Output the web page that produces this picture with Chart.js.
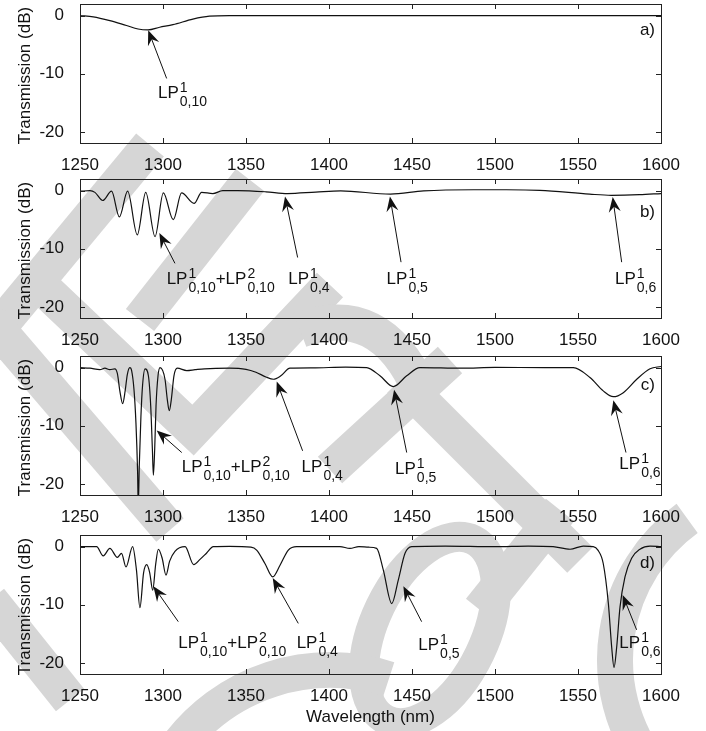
<!DOCTYPE html>
<html>
<head>
<meta charset="utf-8">
<script src="https://cdn.jsdelivr.net/npm/chart.js@4.4.0/dist/chart.umd.min.js"></script>
<style>
html, body { margin: 0; padding: 0; background: #fff; }
#page { position: relative; width: 706px; height: 731px; overflow: hidden; }
canvas { position: absolute; left: 0; }
</style>
</head>
<body>
<div id="page">
  <canvas id="wm" width="706" height="731" style="top:0px"></canvas>
  <canvas id="pa" width="706" height="173" style="top:0px"></canvas>
  <canvas id="pb" width="706" height="173" style="top:175px"></canvas>
  <canvas id="pc" width="706" height="173" style="top:352px"></canvas>
  <canvas id="pd" width="706" height="200" style="top:531px"></canvas>
</div>
<script>
// tick values
var xTicks = [1250, 1300, 1350, 1400, 1450, 1500, 1550, 1600];
var yTicks = [-20, -10, 0];

// a) transmission spectrum (wavelength nm / dB)
var lamA = [1250, 1258, 1268, 1278, 1285, 1291, 1298, 1306, 1318, 1328, 1340, 1400, 1500, 1600];
var dbA  = [0, -0.2, -0.85, -1.7, -2.3, -2.45, -2.0, -1.55, -0.6, -0.1, 0, 0, 0, 0];

// b)
var lamB = [1250, 1256, 1259, 1263.7, 1269, 1273.7, 1278.7, 1284.5, 1289.6, 1295.2, 1300.2, 1306.2, 1311.2, 1318.7, 1323.3,
            1330, 1336, 1345, 1362, 1375, 1392, 1407, 1437, 1457, 1487, 1507, 1527, 1557, 1570, 1587, 1600];
var dbB  = [-0.1, 0, -0.3, -1.7, -0.1, -4.5, -0.1, -7.6, -0.3, -7.9, -0.4, -5, -0.4, -2.2, -0.3,
            -0.5, 0, 0, -0.2, -0.5, -0.25, -0.05, -0.6, -0.05, 0.15, 0.15, 0.05, -0.6, -0.8, -0.7, -0.5];

// c)
var lamC = [1250, 1256, 1262, 1265, 1268, 1271, 1272.5, 1274, 1275.7, 1277.2, 1278.5, 1280, 1281.1, 1282.5, 1283.7, 1284.7,
            1285.1, 1285.7, 1286.7, 1287.7, 1289.2, 1291.2, 1292.6, 1293.6, 1294.2, 1295, 1295.8, 1297, 1298.2, 1301.2,
            1302.6, 1303.8, 1305, 1306.6, 1308.6, 1314.3, 1319.3, 1325, 1340, 1350, 1356, 1362, 1366.5, 1371, 1376.5,
            1390, 1410, 1422.7, 1430.7, 1438.7, 1446.8, 1454.8, 1480, 1500, 1530, 1547.2, 1557.2, 1565.2, 1571.3,
            1577.3, 1585.4, 1593.4, 1600];
var dbC  = [0, -0.1, -0.35, -0.1, -0.35, -0.2, -1, -4, -6.2, -4, -1.2, 0, -0.5, -3.7, -9.5, -18,
            -24, -17, -8.4, -3, -0.2, -1.4, -6.6, -14, -18.5, -14, -6.6, -1.4, 0, -2,
            -5.5, -7.4, -5.5, -1.4, -0.1, -0.5, -0.35, -0.2, -0.1, -0.3, -0.8, -1.6, -2, -1.4, -0.1,
            -0.05, 0.1, 0, -1.4, -3.25, -1.4, 0, -0.1, 0.05, 0, 0, -1.7, -4, -5,
            -4.3, -2, -0.2, 0.2];

// d)
var lamD = [1250, 1260, 1264, 1268, 1272.5, 1275, 1277.7, 1281.7, 1284, 1286.1, 1288.3, 1290.2, 1292, 1293.8, 1295.6,
            1297.2, 1299.5, 1301.8, 1304, 1307.2, 1313.3, 1318.5, 1322.3, 1326.3, 1330.3, 1340, 1353, 1356.4, 1361.4,
            1366.1, 1370.5, 1375.5, 1380.5, 1395, 1406.6, 1412.6, 1418, 1424, 1428.7, 1432.7, 1437.8, 1441.7, 1445.8,
            1449.8, 1470, 1500, 1520, 1535, 1545.2, 1553.2, 1559.2, 1562, 1565.2, 1568.3, 1570.3, 1571.7, 1573.3,
            1575.3, 1578.3, 1582.3, 1587.3, 1593.4, 1600];
var dbD  = [0, 0, -1.6, -0.3, -1.85, -1.15, -3.5, 0, -4, -10.5, -4.5, -3.1, -4.5, -7.5, -3,
            -0.45, -2, -4.9, -2.5, -0.8, 0, -3.1, -2.2, -1.1, 0, 0.05, -0.1, -0.6, -2.9,
            -5.2, -3.2, -0.6, 0, 0, 0, -0.3, 0, -0.1, -0.3, -4, -9.8, -5.8, -1.15,
            0, 0.1, 0, 0.1, 0, -0.45, 0.1, 0, -0.6, -2.9, -9.8, -17.3, -20.8, -17.3,
            -10.4, -5.2, -2, -0.45, 0.1, 0];

var FONT = '"Liberation Sans", Arial, Helvetica, sans-serif';

function pts(xs, ys) {
    return xs.map(function (x, i) { return { x: x, y: ys[i] }; });
}

var LP10 = ['LP', ['1', '0,10']];
var LP10b = ['LP', ['1', '0,10'], '+LP', ['2', '0,10']];
function lp(n) { return ['LP', ['1', '0,' + n]]; }

// watermark (background decoration)
function drawWatermark() {
    var c = document.getElementById('wm').getContext('2d');
    c.strokeStyle = '#d6d6d6';
    c.lineWidth = 36;
    c.lineCap = 'butt';
    c.lineJoin = 'miter';
    function poly(p) {
        c.beginPath();
        c.moveTo(p[0][0], p[0][1]);
        for (var i = 1; i < p.length; i++) c.lineTo(p[i][0], p[i][1]);
        c.stroke();
    }
    poly([[150, 145], [-20, 350]]);
    poly([[-10, 320], [170, 530]]);
    poly([[40, 285], [193, 430], [330, 285]]);
    poly([[250, 180], [140, 320]]);
    // hook shape
    c.beginPath();
    c.moveTo(300, 330);
    c.quadraticCurveTo(380, 300, 420, 390);
    c.stroke();
    poly([[400, 380], [580, 560]]);
    poly([[330, 470], [450, 360]]);
    // ring
    c.lineWidth = 30;
    c.beginPath();
    c.ellipse(430, 630, 55, 100, 0.45, 0, Math.PI * 2);
    c.stroke();
    c.lineWidth = 36;
    poly([[560, 510], [480, 610]]);
    c.beginPath();
    c.arc(790, 660, 175, Math.PI * 0.8, Math.PI * 1.3);
    c.stroke();
    c.beginPath();
    c.arc(330, 860, 190, Math.PI * 1.2, Math.PI * 1.6);
    c.stroke();
    poly([[-10, 600], [70, 700]]);
}

// frame, inward ticks, titles and arrows
var framePlugin = {
    id: 'frame',
    afterDraw: function (chart, args, o) {
        var ctx = chart.ctx, a = chart.chartArea;
        var sx = chart.scales.x, sy = chart.scales.y;
        ctx.save();
        ctx.strokeStyle = '#222';
        ctx.lineWidth = 1;
        ctx.strokeRect(Math.round(a.left) + 0.5, Math.round(a.top) + 0.5,
                       Math.round(a.right - a.left), Math.round(a.bottom - a.top));
        ctx.beginPath();
        xTicks.forEach(function (v) {
            var px = Math.round(sx.getPixelForValue(v)) + 0.5;
            ctx.moveTo(px, a.bottom); ctx.lineTo(px, a.bottom - 5);
            ctx.moveTo(px, a.top); ctx.lineTo(px, a.top + 5);
        });
        yTicks.forEach(function (v) {
            var py = Math.round(sy.getPixelForValue(v)) + 0.5;
            ctx.moveTo(a.left, py); ctx.lineTo(a.left + 5, py);
            ctx.moveTo(a.right, py); ctx.lineTo(a.right - 5, py);
        });
        ctx.stroke();

        ctx.fillStyle = '#111';
        // y title
        ctx.save();
        ctx.translate(25, (a.top + a.bottom) / 2 + 2);
        ctx.rotate(-Math.PI / 2);
        ctx.font = '17px ' + FONT;
        ctx.textAlign = 'center';
        ctx.textBaseline = 'middle';
        ctx.fillText('Transmission (dB)', 0, 0);
        ctx.restore();

        // panel letter
        ctx.font = '17px ' + FONT;
        ctx.textAlign = 'right';
        ctx.textBaseline = 'alphabetic';
        ctx.fillText(o.letter[0], sx.getPixelForValue(o.letter[1]), sy.getPixelForValue(o.letter[2]));

        if (o.xTitle) {
            ctx.textAlign = 'center';
            ctx.textBaseline = 'middle';
            ctx.fillText(o.xTitle, (a.left + a.right) / 2, a.bottom + 43);
        }

        // arrows
        ctx.strokeStyle = '#111';
        (o.arrows || []).forEach(function (ar) {
            var x2 = sx.getPixelForValue(ar.tip[0]), y2 = sy.getPixelForValue(ar.tip[1]);
            var x1 = sx.getPixelForValue(ar.tail[0]), y1 = sy.getPixelForValue(ar.tail[1]);
            var ang = Math.atan2(y2 - y1, x2 - x1), L = 15, W = 6;
            ctx.lineWidth = 1;
            ctx.beginPath();
            ctx.moveTo(x1, y1);
            ctx.lineTo(x2 - Math.cos(ang) * 9, y2 - Math.sin(ang) * 9);
            ctx.stroke();
            ctx.save();
            ctx.translate(x2, y2);
            ctx.rotate(ang);
            ctx.beginPath();
            ctx.moveTo(0, 0);
            ctx.lineTo(-L, -W);
            ctx.lineTo(-L * 0.65, 0);
            ctx.lineTo(-L, W);
            ctx.closePath();
            ctx.fill();
            ctx.restore();
            drawLabel(ctx, sx.getPixelForValue(ar.text[0]), sy.getPixelForValue(ar.text[1]), ar.label);
        });
        ctx.restore();
    }
};

function drawLabel(ctx, x, y, parts) {
    ctx.textAlign = 'left';
    ctx.textBaseline = 'alphabetic';
    parts.forEach(function (p) {
        if (typeof p === 'string') {
            ctx.font = '17px ' + FONT;
            ctx.fillText(p, x, y);
            x += ctx.measureText(p).width;
        } else {
            ctx.font = '14px ' + FONT;
            ctx.fillText(p[0], x + 1, y - 6);
            ctx.fillText(p[1], x + 1, y + 8);
            x += Math.max(ctx.measureText(p[0]).width, ctx.measureText(p[1]).width) + 1;
        }
    });
}

function makePanel(id, xs, ys, frameOpts, xAxisHeight) {
    return new Chart(document.getElementById(id).getContext('2d'), {
        type: 'scatter',
        data: {
            datasets: [{
                data: pts(xs, ys),
                showLine: true,
                borderColor: '#111',
                borderWidth: 1.2,
                pointRadius: 0,
                cubicInterpolationMode: 'monotone'
            }]
        },
        options: {
            responsive: false,
            animation: false,
            devicePixelRatio: 1,
            layout: { padding: { top: 4, right: 45, left: 0, bottom: 0 } },
            plugins: { legend: { display: false }, tooltip: { enabled: false }, frame: frameOpts },
            scales: {
                x: {
                    type: 'linear', min: 1250, max: 1600,
                    grid: { display: false }, border: { display: false },
                    afterBuildTicks: function (s) { s.ticks = xTicks.map(function (v) { return { value: v }; }); },
                    afterFit: function (s) { s.height = xAxisHeight; s.paddingLeft = 0; s.paddingRight = 0; },
                    ticks: {
                        font: { family: FONT, size: 17 }, color: '#111', padding: 4, maxRotation: 0, autoSkip: false,
                        callback: function (v) { return String(v); }
                    }
                },
                y: {
                    type: 'linear', min: -21.9, max: 2,
                    grid: { display: false }, border: { display: false },
                    afterBuildTicks: function (s) { s.ticks = yTicks.map(function (v) { return { value: v }; }); },
                    afterFit: function (s) { s.width = 80; s.paddingTop = 0; s.paddingBottom = 0; },
                    ticks: {
                        font: { family: FONT, size: 17 }, color: '#111', padding: 8,
                        callback: function (v) { return String(v); }
                    }
                }
            }
        },
        plugins: [framePlugin]
    });
}

drawWatermark();

makePanel('pa', lamA, dbA, {
    letter: ['a)', 1596.4, -3.4],
    arrows: [{ tip: [1291.1, -2.5], tail: [1302.2, -10.8], text: [1297, -14.2], label: LP10 }]
}, 30);

makePanel('pb', lamB, dbB, {
    letter: ['b)', 1596.4, -4.5],
    arrows: [
        { tip: [1297.8, -7.3], tail: [1307.2, -12.5], text: [1302.2, -16], label: LP10b },
        { tip: [1373.5, -1.0], tail: [1381.1, -11.5], text: [1375.5, -16], label: lp(4) },
        { tip: [1436.7, -1.0], tail: [1443.4, -12.3], text: [1434.7, -16], label: lp(5) },
        { tip: [1570.9, -1.1], tail: [1576.3, -12.3], text: [1572.3, -16], label: lp(6) }
    ]
}, 30);

makePanel('pc', lamC, dbC, {
    letter: ['c)', 1596.4, -3.8],
    arrows: [
        { tip: [1296.2, -10.8], tail: [1311.3, -14.6], text: [1311.3, -18], label: LP10b },
        { tip: [1368.5, -2.4], tail: [1384.1, -14.3], text: [1383.5, -18], label: lp(4) },
        { tip: [1439.2, -3.8], tail: [1446.8, -14.6], text: [1439.8, -18.3], label: lp(5) },
        { tip: [1571.3, -5.6], tail: [1578.9, -14.6], text: [1574.9, -17.4], label: lp(6) }
    ]
}, 30);

makePanel('pd', lamD, dbD, {
    letter: ['d)', 1596.4, -3.6],
    xTitle: 'Wavelength (nm)',
    arrows: [
        { tip: [1294.2, -6.8], tail: [1309.2, -12.9], text: [1309.2, -17.5], label: LP10b },
        { tip: [1366.1, -5.4], tail: [1381.5, -13.2], text: [1380.5, -17.5], label: lp(4) },
        { tip: [1444.8, -6.8], tail: [1455.8, -12.9], text: [1453.8, -17.8], label: lp(5) },
        { tip: [1576.9, -8.3], tail: [1585.3, -14.3], text: [1574.9, -17.5], label: lp(6) }
    ]
}, 57);
</script>
</body>
</html>
